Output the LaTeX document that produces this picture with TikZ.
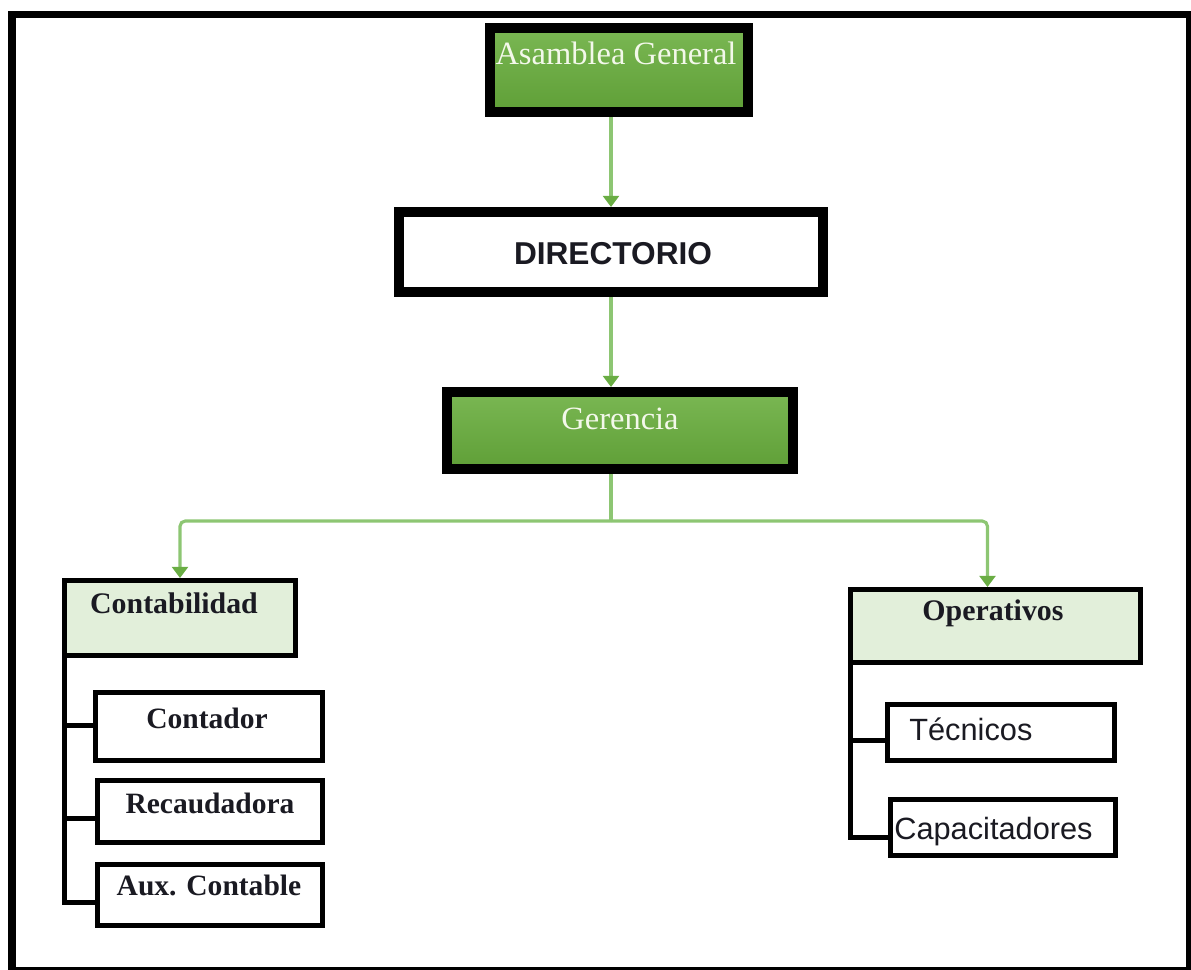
\documentclass[tikz,border=0pt]{standalone}
\usepackage{fontspec}
\setmainfont{Liberation Serif}
\newfontfamily\arialfont{Liberation Sans}
\usetikzlibrary{arrows.meta,calc}

% one drawing unit = one pixel of the chart
\newdimen\pxl
\pxl=0.02cm

\definecolor{leaftop}{HTML}{7AB753}
\definecolor{leafbot}{HTML}{5F9F37}
\definecolor{palegreen}{HTML}{E2EFDA}
\definecolor{linkgreen}{HTML}{8DC673}
\definecolor{tipgreen}{HTML}{6AAD44}
\definecolor{titlewhite}{HTML}{F3F8EA}
\definecolor{inkdark}{HTML}{1A1A22}

\begin{document}
\begin{tikzpicture}[x=0.02cm,y=-0.02cm,
  every node/.style={inner sep=0pt},
  headbox/.style={draw=black, line width=5.7pt, top color=leaftop, bottom color=leafbot},
  dirbox/.style={draw=black, line width=5.7pt, fill=white},
  areabox/.style={draw=black, line width=2.85pt, fill=palegreen},
  unitbox/.style={draw=black, line width=2.85pt, fill=white},
  headtxt/.style={text=titlewhite, font=\fontsize{18.5}{22}\selectfont},
  dirtxt/.style={text=inkdark, font=\arialfont\bfseries\fontsize{18}{22}\selectfont},
  areatxt/.style={text=inkdark, font=\bfseries\fontsize{17}{21}\selectfont},
  unittxt/.style={text=inkdark, font=\bfseries\fontsize{16.8}{20}\selectfont},
  sanstxt/.style={text=inkdark, font=\arialfont\fontsize{17.5}{21}\selectfont},
  link/.style={draw=linkgreen, line width=1.8pt},
  arr/.style={link, -{Triangle[width=9pt,length=6.3pt,color=tipgreen]}},
  treeline/.style={draw=black, line width=2.85pt}
]
\useasboundingbox (0,0) rectangle (1191,970);

% outer frame
\draw[line width=4.55pt] (12,14.5) rectangle (1190,971);

% top of the chart
\node[headbox, minimum width=258*\pxl, minimum height=84*\pxl] (ag) at (619,70) {};
\node[headtxt] (agt) at (616,53) {Asamblea General};

\node[dirbox, minimum width=424*\pxl, minimum height=80*\pxl] (di) at (611,252) {};
\node[dirtxt] (dit) at (613,254) {DIRECTORIO};

\node[headbox, minimum width=346*\pxl, minimum height=77*\pxl] (ge) at (620,430.5) {};
\node[headtxt] (get) at (620,419) {Gerencia};

% areas
\node[areabox, minimum width=231*\pxl, minimum height=75*\pxl] (cb) at (180,618) {};
\node[areatxt] (cbt) at (174,603) {Contabilidad};

\node[areabox, minimum width=290*\pxl, minimum height=73*\pxl] (op) at (995.5,626) {};
\node[areatxt] (opt) at (993,613) {Operativos};

% units under Contabilidad
\node[unitbox, minimum width=227*\pxl, minimum height=68*\pxl] (ct) at (209,726.5) {};
\node[unittxt] (ctt) at (207,718) {Contador};
\node[unitbox, minimum width=225*\pxl, minimum height=62*\pxl] (rc) at (210,811.5) {};
\node[unittxt] (rct) at (210,803) {Recaudadora};
\node[unitbox, minimum width=225*\pxl, minimum height=61*\pxl] (ax) at (210,895) {};
\node[unittxt] (axt) at (209,885) {Aux. Contable};

% units under Operativos
\node[unitbox, minimum width=227*\pxl, minimum height=56*\pxl] (te) at (1001,732.5) {};
\node[sanstxt, anchor=west] (tet) at (909,729) {Técnicos};
\node[unitbox, minimum width=225*\pxl, minimum height=56*\pxl] (cp) at (1003,827.5) {};
\node[sanstxt, anchor=west] (cpt) at (894,832) {Capacitadores};

% green connectors
\draw[arr] (ag.south -| di.north) -- (di.north);
\draw[arr] (di.south) -- (di.south |- ge.north);
\draw[link] (ge.south -| di.south) -- ++(0,47) coordinate (fork);
\coordinate (opin) at ($(op.north)+(-8,0)$);
\draw[arr, rounded corners=3pt] (fork) -| (cb.north);
\draw[arr, rounded corners=3pt] (fork) -| (opin);

% black tree lines from each area to its units
\coordinate (cbroot) at ($(cb.south west)+(2.5,0)$);
\coordinate (oproot) at ($(op.south west)+(2.5,0)$);
\coordinate (ctin) at ($(ct.west)+(0,-1.5)$);
\coordinate (rcin) at ($(rc.west)+(0,6.5)$);
\coordinate (axin) at ($(ax.west)+(0,7)$);
\coordinate (tein) at ($(te.west)+(0,7.5)$);
\coordinate (cpin) at ($(cp.west)+(0,9.5)$);
\draw[treeline] (cbroot) |- (axin);
\draw[treeline] (cbroot |- ctin) -- (ctin);
\draw[treeline] (cbroot |- rcin) -- (rcin);
\draw[treeline] (oproot) |- (cpin);
\draw[treeline] (oproot |- tein) -- (tein);
\end{tikzpicture}
\end{document}
